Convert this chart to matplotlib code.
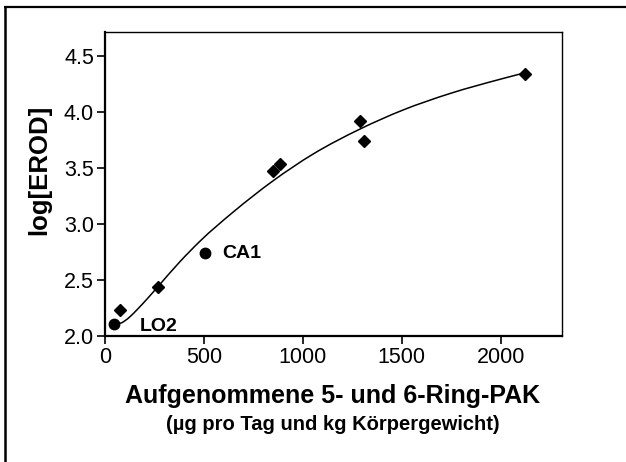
import matplotlib
matplotlib.use("Agg")
import matplotlib.pyplot as plt
from matplotlib.lines import Line2D
from matplotlib.path import Path
from matplotlib.patches import PathPatch

plt.rcParams['font.family'] = ['Liberation Sans', 'DejaVu Sans']

# Diamond data points
dia_x = [76, 269, 850, 887, 1288, 1308, 2124]
dia_y = [2.233, 2.44, 3.468, 3.536, 3.918, 3.737, 4.340]

# Labelled circle points
circ_names = ['LO2', 'CA1']
circ_x = [48, 505]
circ_y = [2.108, 2.744]

# Fitted curve
curve_x = [58, 80, 100, 130, 165, 210, 269, 379, 480, 648, 850, 1050, 1288, 1500, 1750, 2000, 2130]
curve_y = [2.112, 2.115, 2.135, 2.178, 2.24, 2.325, 2.443, 2.663, 2.845, 3.105, 3.384, 3.62, 3.844,
           4.01, 4.165, 4.29, 4.35]

xticks = [0, 500, 1000, 1500, 2000]
yticks = [2.0, 2.5, 3.0, 3.5, 4.0, 4.5]

W, H = 626, 462
fig = plt.figure(figsize=(W / 100, H / 100), dpi=100)
ax = fig.add_axes([105 / W, 1 - 336 / H, (562 - 105) / W, (336 - 32) / H])


def smooth_path(xs, ys):
    """Smooth cubic (Hermite) curve through the read points, drawn as Beziers."""
    n = len(xs)
    h = [xs[i + 1] - xs[i] for i in range(n - 1)]
    d = [(ys[i + 1] - ys[i]) / h[i] for i in range(n - 1)]
    m = [d[0]]
    for i in range(1, n - 1):
        m.append((d[i - 1] * h[i] + d[i] * h[i - 1]) / (h[i - 1] + h[i]))
    m.append(d[-1])
    verts = [(xs[0], ys[0])]
    codes = [Path.MOVETO]
    for i in range(n - 1):
        verts += [(xs[i] + h[i] / 3, ys[i] + m[i] * h[i] / 3),
                  (xs[i + 1] - h[i] / 3, ys[i + 1] - m[i + 1] * h[i] / 3),
                  (xs[i + 1], ys[i + 1])]
        codes += [Path.CURVE4] * 3
    return Path(verts, codes)


ax.add_patch(PathPatch(smooth_path(curve_x, curve_y), facecolor='none',
                       edgecolor='black', lw=1.1))
ax.plot(dia_x, dia_y, linestyle='none', marker='D', ms=6.5, color='black')
ax.plot(circ_x, circ_y, linestyle='none', marker='o', ms=7.5, color='black')

# point labels
ax.annotate(circ_names[0], (circ_x[0], circ_y[0]), xytext=(139.3 - 114.3, -(330.7 - 323.3)),
            textcoords='offset pixels', fontsize=14, fontweight='bold', va='baseline', ha='left')
ax.annotate(circ_names[1], (circ_x[1], circ_y[1]), xytext=(222.3 - 205, -(257.3 - 251.7)),
            textcoords='offset pixels', fontsize=14, fontweight='bold', va='baseline', ha='left')

ax.set_xlim(0, 2310)
ax.set_ylim(2.0, 4.71)
ax.set_xticks(xticks)
ax.set_xticklabels([str(t) for t in xticks])
ax.set_yticks(yticks)
ax.set_yticklabels([f"{t:.1f}" for t in yticks])
ax.tick_params(direction='out', length=6, width=1.2, labelsize=15.5, pad=2, color='black')

for s in ['left', 'bottom']:
    ax.spines[s].set_linewidth(1.6)
for s in ['top', 'right']:
    ax.spines[s].set_linewidth(1.0)

fig.text(39 / W, 1 - 170 / H, 'log[EROD]', rotation=90, ha='center', va='center',
         fontsize=18.5, fontweight='bold')
fig.text(333 / W, 1 - 403 / H, 'Aufgenommene 5- und 6-Ring-PAK', ha='center', va='baseline',
         fontsize=18, fontweight='bold')
fig.text(333 / W, 1 - 430 / H, '(µg pro Tag und kg Körpergewicht)', ha='center', va='baseline',
         fontsize=14.5, fontweight='bold')

# outer frame (top and left edges visible)
fig.add_artist(Line2D([5 / W, 5 / W], [0, 1 - 6 / H], transform=fig.transFigure,
                      color='black', lw=1.8, solid_capstyle='butt'))
fig.add_artist(Line2D([4.4 / W, 1], [1 - 6.5 / H, 1 - 6.5 / H], transform=fig.transFigure,
                      color='black', lw=1.6, solid_capstyle='butt'))

fig.savefig('out.png', dpi=100)
